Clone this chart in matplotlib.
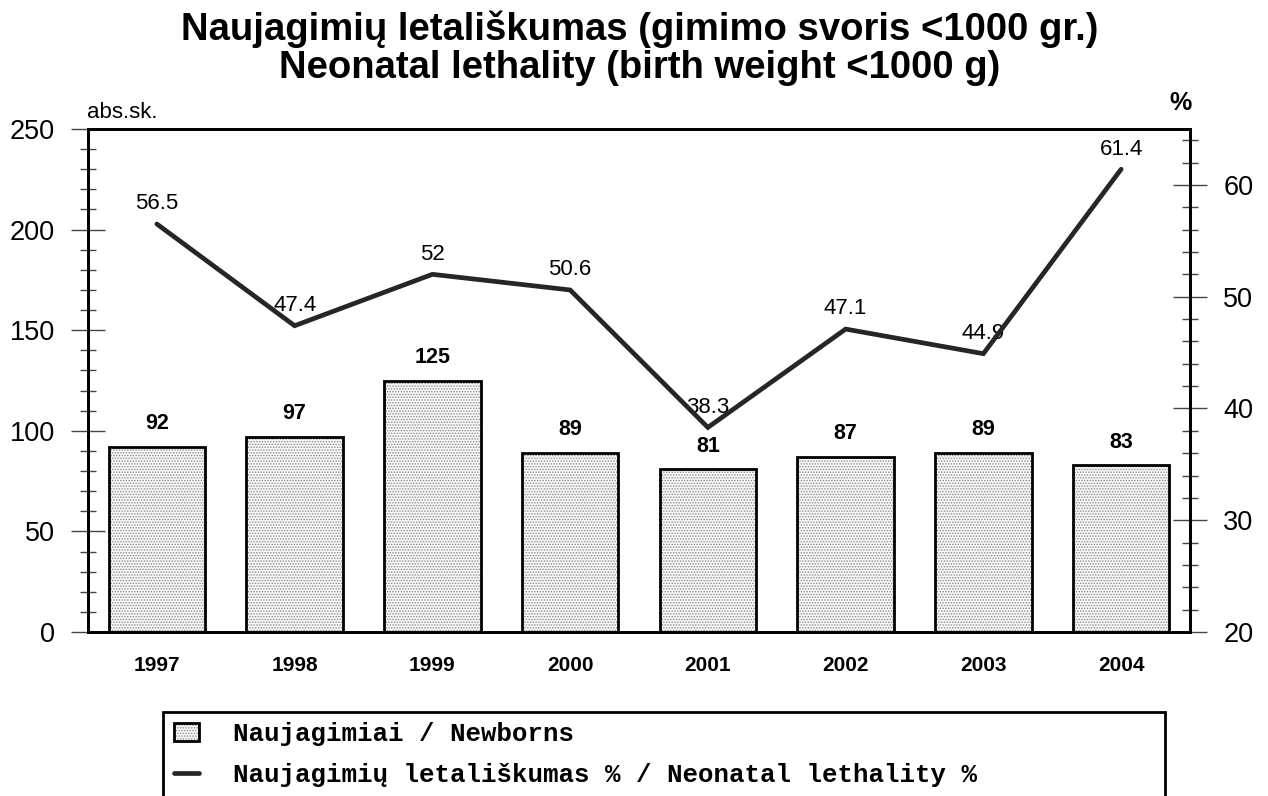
import matplotlib
matplotlib.use("Agg")
import matplotlib.pyplot as plt
from matplotlib.ticker import MultipleLocator
from matplotlib.legend_handler import HandlerTuple
from matplotlib.patches import Rectangle

years = ["1997", "1998", "1999", "2000", "2001", "2002", "2003", "2004"]
newborns = [92, 97, 125, 89, 81, 87, 89, 83]
lethality = [56.5, 47.4, 52, 50.6, 38.3, 47.1, 44.9, 61.4]
lethality_labels = ["56.5", "47.4", "52", "50.6", "38.3", "47.1", "44.9", "61.4"]

plt.rcParams['font.family'] = ['Liberation Sans', 'DejaVu Sans']
plt.rcParams['hatch.linewidth'] = 0.7

W, H = 1268, 796
fig = plt.figure(figsize=(W / 100, H / 100), dpi=100)
L, R, T, B = 88, 1190, 129, 632
ax = fig.add_axes([L / W, (H - B) / H, (R - L) / W, (B - T) / H])
ax2 = ax.twinx()

x = list(range(len(years)))
bw = 0.70
bars_fill = ax.bar(x, newborns, width=bw, color='#f8f8f8', edgecolor='#8a8a8a',
                   hatch='......', linewidth=0, zorder=2)
bars_edge = ax.bar(x, newborns, width=bw, fill=False, edgecolor='black',
                   linewidth=2.0, zorder=3)
ax.set_xlim(-0.5, len(years) - 0.5)
ax.set_ylim(0, 250)
ax.yaxis.set_major_locator(MultipleLocator(50))
ax.yaxis.set_minor_locator(MultipleLocator(10))
ax.set_xticks(x)
ax.set_xticklabels(years, fontweight='bold', fontsize=15)
ax.tick_params(axis='x', length=0, pad=17)
ax.tick_params(axis='y', which='major', direction='inout', length=24, width=1.0,
               labelsize=19.5, pad=12, color='#444444')
ax.tick_params(axis='y', which='minor', direction='inout', length=12, width=1.0,
               color='#444444')

for xi, v in zip(x, newborns):
    ax.annotate(str(v), (xi, v), xytext=(0, 9), textcoords='offset points',
                ha='center', va='bottom', fontsize=15.5, fontweight='bold')

line, = ax2.plot(x, lethality, color='#262626', linewidth=3.4, zorder=4,
                 solid_capstyle='round', solid_joinstyle='miter')
ax2.set_ylim(20, 65)
ax2.set_yticks([20, 30, 40, 50, 60])
ax2.yaxis.set_minor_locator(MultipleLocator(2))
ax2.tick_params(axis='y', which='major', direction='inout', length=24, width=1.0,
                labelsize=19.5, pad=12, color='#444444')
ax2.tick_params(axis='y', which='minor', direction='inout', length=12, width=1.0,
                color='#444444')
for xi, v, s in zip(x, lethality, lethality_labels):
    ax2.annotate(s, (xi, v), xytext=(0, 7), textcoords='offset points',
                 ha='center', va='bottom', fontsize=16)

for a in (ax, ax2):
    for sp in a.spines.values():
        sp.set_linewidth(2.0)
        sp.set_color('black')

fig.text(640 / W, 1 - 40 / H, "Naujagimių letališkumas (gimimo svoris <1000 gr.)",
         ha='center', va='baseline', fontsize=27.5, fontweight='bold')
fig.text(640 / W, 1 - 78 / H, "Neonatal lethality (birth weight <1000 g)",
         ha='center', va='baseline', fontsize=27.5, fontweight='bold')
fig.text(87 / W, 1 - 112 / H, "abs.sk.", ha='left', va='center', fontsize=16)
fig.text(1181 / W, 1 - 103 / H, "%", ha='center', va='center', fontsize=18,
         fontweight='bold')

# legend frame (extends past the bottom edge, as in the reference)
fig.patches.append(Rectangle((163 / W, -0.05), (1165 - 163) / W, (1 - 712 / H) + 0.05,
                             transform=fig.transFigure, fill=False,
                             edgecolor='black', linewidth=2.0, zorder=5))
leg = fig.legend([(bars_fill, bars_edge), line],
                 ["Naujagimiai / Newborns", "Naujagimių letališkumas % / Neonatal lethality %"],
                 handler_map={tuple: HandlerTuple(ndivide=1)},
                 loc='upper left',
                 bbox_to_anchor=(163 / W, 1 - 711 / H),
                 frameon=False, borderaxespad=0,
                 prop={'family': 'Liberation Mono', 'weight': 'bold', 'size': 18.5},
                 handlelength=1.0, handletextpad=1.3, labelspacing=0.68,
                 borderpad=0.42)

fig.savefig("out.png", dpi=100)
